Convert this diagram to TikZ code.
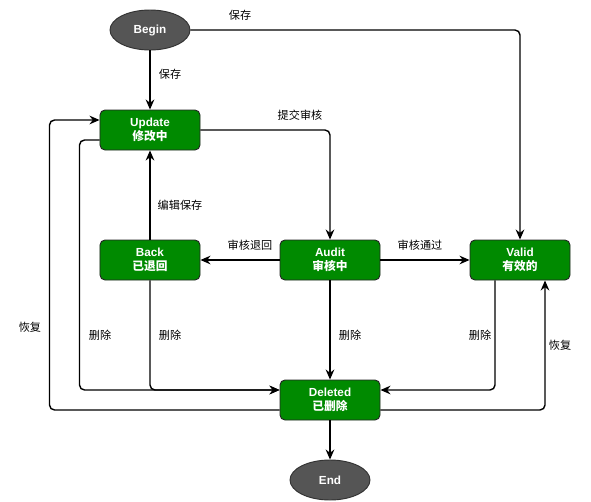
\documentclass[tikz,border=0pt]{standalone}
\usepackage{fontspec}
\setmainfont{Liberation Sans}
\newfontfamily\cjk{Noto Sans CJK SC}
\usetikzlibrary{arrows.meta,shapes.geometric,calc}
\definecolor{stategreen}{HTML}{008A00}
\definecolor{termgrey}{HTML}{555555}
\tikzset{
  state/.style={draw=black!85, fill=stategreen, rounded corners=0.15cm, line width=0.8pt,
    minimum width=3cm, minimum height=1.2cm, text=white, font=\bfseries\fontsize{10}{11.5}\selectfont,
    align=center, inner sep=0pt},
  term/.style={draw=black!80, fill=termgrey, ellipse, line width=0.8pt,
    minimum width=2.4cm, minimum height=1.2cm, text=white, font=\bfseries\fontsize{10}{11.5}\selectfont},
  flow/.style={draw, line width=1.2pt, rounded corners=0.15cm, -{Stealth[length=0.3cm,width=0.26cm]}},
  lbl/.style={font=\cjk\fontsize{9.5}{11}\selectfont, inner sep=1pt}
}
\begin{document}
\begin{tikzpicture}[x=0.03cm,y=-0.03cm]
\useasboundingbox (0,0) rectangle (591,501);

% states
\node[term] (begin) at (150,30) {Begin};
\node[state] (update) at (150,130) {Update\\{\cjk\bfseries 修改中}};
\node[state] (back) at (150,260) {Back\\{\cjk\bfseries 已退回}};
\node[state] (audit) at (330,260) {Audit\\{\cjk\bfseries 审核中}};
\node[state] (valid) at (520,260) {Valid\\{\cjk\bfseries 有效的}};
\node[state] (deleted) at (330,400) {Deleted\\{\cjk\bfseries 已删除}};
\node[term] (end) at (330,480) {End};

% transitions
\draw[flow] (begin) to (update);
\node[lbl] (lsave) at (170,74) {保存};

\draw[flow] (begin.east) -| (valid.north);
\node[lbl] (lsavetop) at (240,15) {保存};

\draw[flow] (update.east) -| (audit.north);
\node[lbl] (lsubmit) at (300,115) {提交审核};

\draw[flow] (audit.west) to (back.east);
\node[lbl] (lreject) at (250,245) {审核退回};

\draw[flow] (audit.east) to (valid.west);
\node[lbl] (lpass) at (420,245) {审核通过};

\draw[flow] (back.north) to (update.south);
\node[lbl] (ledit) at (180,205) {编辑保存};

\draw[flow] (audit.south) to (deleted.north);
\node[lbl] (ldelaudit) at (350,335) {删除};

\draw[flow] ($(update.west)+(0,10)$) -- ++(-20,0) |- ($(deleted.west)+(0,-10)$);
\node[lbl] (ldelupdate) at (100,335) {删除};

\draw[flow] (back.south) |- ($(deleted.west)+(0,-10)$);
\node[lbl] (ldelback) at (170,335) {删除};

\draw[flow] ($(valid.south)+(-25,0)$) |- ($(deleted.east)+(0,-10)$);
\node[lbl] (ldelvalid) at (480,335) {删除};

\draw[flow] ($(deleted.west)+(0,10)$) -- ++(-230,0) |- ($(update.west)+(0,-10)$);
\node[lbl] (lrestoreleft) at (30,327) {恢复};

\draw[flow] ($(deleted.east)+(0,10)$) -| ($(valid.south)+(25,0)$);
\node[lbl] (lrestoreright) at (560,345) {恢复};

\draw[flow] (deleted.south) to (end.north);
\end{tikzpicture}
\end{document}
